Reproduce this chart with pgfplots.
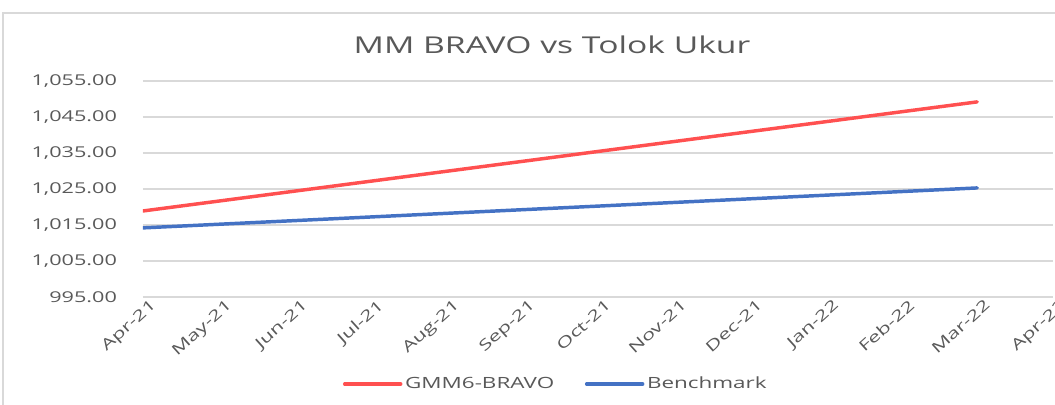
\documentclass[border=0pt]{standalone}
\usepackage{pgfplots}
\pgfplotsset{compat=1.18}
\usepackage{fontspec}
\setmainfont{Open Sans}[FakeStretch=1.45]
\definecolor{gridc}{HTML}{D9D9D9}
\definecolor{txt}{HTML}{595959}
\definecolor{redl}{HTML}{FF5050}
\definecolor{bluel}{HTML}{4472C4}
\begin{document}
\begin{tikzpicture}[x=0.75pt,y=0.75pt]
\useasboundingbox (-143,-107) rectangle (912,297);
\draw[gridc, line width=1.2pt] (-140,-120) -- (-140,284) -- (930,284);
\begin{axis}[
  at={(0,0)}, anchor=south west,
  scale only axis, width=682.5pt, height=162pt,
  xmin=0, xmax=12, ymin=995, ymax=1055,
  xtick={0,...,12},
  xticklabels={Apr-21,May-21,Jun-21,Jul-21,Aug-21,Sep-21,Oct-21,Nov-21,Dec-21,Jan-22,Feb-22,Mar-22,Apr-22},
  ytick={995,1005,...,1055},
  axis line style={draw=none},
  tick style={draw=none},
  ymajorgrids, major grid style={gridc, line width=0.9pt},
  yticklabel style={/pgf/number format/fixed, /pgf/number format/fixed zerofill, /pgf/number format/precision=2, /pgf/number format/1000 sep={,}, /pgf/number format/assume math mode=true},
  ticklabel style={font=\fontsize{11.2pt}{13pt}\selectfont, text=txt},
  yticklabel style={xshift=-16pt},
  xticklabel style={rotate=42, anchor=north east, xshift=4pt, yshift=-3pt, inner sep=1pt},
  legend style={at={(0.454,-0.403)}, anchor=center, draw=none, legend columns=2, font=\fontsize{11.6pt}{13pt}\selectfont, text=txt, /tikz/every even column/.append style={column sep=21pt}, /tikz/every odd column/.append style={column sep=0pt}},
  legend image code/.code={\draw[#1, line width=2.6pt, line cap=round] (0pt,0pt) -- (42pt,0pt);},
]
\addplot[redl, line width=2.6pt, line cap=round] coordinates {
(0,1018.90) (1,1021.65) (2,1024.41) (3,1027.16) (4,1029.92) (5,1032.67)
(6,1035.43) (7,1038.18) (8,1040.94) (9,1043.69) (10,1046.45) (11,1049.20)};
\addlegendentry{GMM6-BRAVO}
\addplot[bluel, line width=2.6pt, line cap=round] coordinates {
(0,1014.20) (1,1015.21) (2,1016.22) (3,1017.23) (4,1018.24) (5,1019.25)
(6,1020.25) (7,1021.26) (8,1022.27) (9,1023.28) (10,1024.29) (11,1025.30)};
\addlegendentry{Benchmark}
\end{axis}
\node[text=txt, font=\fontsize{17.4pt}{21pt}\selectfont] at (409,252) {MM BRAVO vs Tolok Ukur};
\end{tikzpicture}
\end{document}
